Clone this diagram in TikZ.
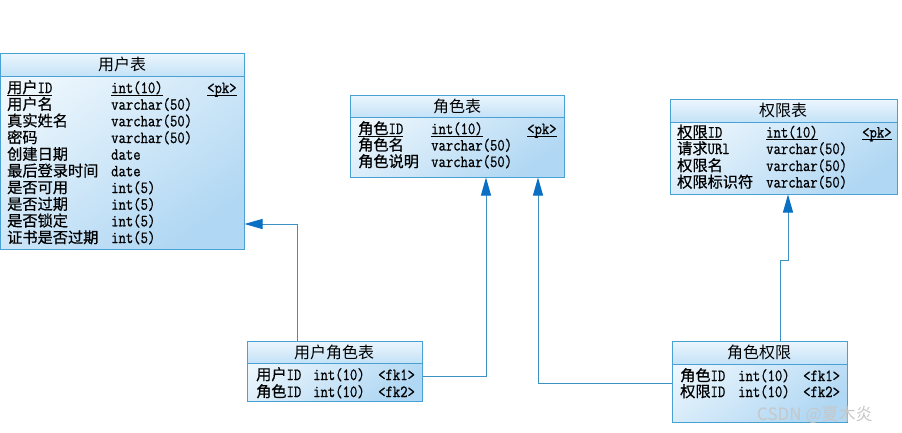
\documentclass[tikz,border=0pt]{standalone}
\usepackage{fontspec}
\usetikzlibrary{arrows.meta,fit}
\newfontfamily\cjk[FakeBold=0.6]{Noto Sans CJK SC}
\newfontfamily\cjkt{Noto Sans CJK SC}
\newfontfamily\wm{Noto Sans CJK SC}
\newfontfamily\mono[FakeStretch=0.84,FakeBold=0.8]{Latin Modern Mono}
\definecolor{bd}{RGB}{72,160,212}
\definecolor{ln}{RGB}{62,145,195}
\definecolor{ah}{RGB}{10,112,196}
\definecolor{fa}{RGB}{238,247,253}
\definecolor{fb}{RGB}{176,215,243}
\definecolor{ha}{RGB}{236,246,253}
\definecolor{hb}{RGB}{196,226,247}
\newcommand\ulx[1]{\leavevmode\setbox0\hbox{#1}\rlap{\rule[-2.6pt]{\wd0}{0.7pt}}\box0}
\newcommand\zh[1]{{\cjk\fontsize{15.2}{16}\selectfont #1}}
\tikzset{
  tbody/.style={inner sep=0pt, draw=bd, line width=1pt, top color=fa, bottom color=fb, shading angle=35},
  thead/.style={inner sep=0pt, draw=bd, line width=1pt, top color=ha, bottom color=hb},
  ttl/.style={inner sep=0pt, font=\cjkt\fontsize{16}{17}\selectfont},
  cell/.style={inner sep=0pt, anchor=base west, font=\mono\fontsize{17}{18}\selectfont},
  conn/.style={draw=ln, line width=1pt, -{Triangle[length=18pt,width=10pt,fill=ah,color=ah]}},
  wmark/.style={inner sep=0pt, text=black!22, font=\wm\fontsize{17}{18}\selectfont}
}
\begin{document}
\begin{tikzpicture}[x=1pt,y=-1pt]
\useasboundingbox (0,0) rectangle (902,432);
\fill[white] (0,0) rectangle (902,432);
% tables
\node[tbody, fit={(0.5,53) (244,249)}] (user) {};
\node[thead, fit={(0.5,53) (244,76)}] (userh) {};
\node[ttl] (usert) at (122,64) {用户表};
\node[tbody, fit={(350,95) (564,177)}] (role) {};
\node[thead, fit={(350,95) (564,117)}] (roleh) {};
\node[ttl] (rolet) at (457,106) {角色表};
\node[tbody, fit={(670,99) (897,194)}] (perm) {};
\node[thead, fit={(670,99) (897,122)}] (permh) {};
\node[ttl] (permt) at (783,110) {权限表};
\node[tbody, fit={(247,341) (422,401)}] (ur) {};
\node[thead, fit={(247,341) (422,363)}] (urh) {};
\node[ttl] (urt) at (334,352) {用户角色表};
\node[tbody, fit={(672,341) (847,422)}] (rp) {};
\node[thead, fit={(672,341) (847,364)}] (rph) {};
\node[ttl] (rpt) at (759,352.5) {角色权限};
% user rows
\node[cell] (u1n) at (7,93) {\ulx{\zh{用户}ID}};
\node[cell] (u1t) at (111,93) {\ulx{int(10)}};
\node[cell] (u1k) at (207,93) {\ulx{<pk>}};
\node[cell] (u2n) at (7,109.7) {\zh{用户名}};
\node[cell] (u2t) at (111,109.7) {varchar(50)};
\node[cell] (u3n) at (7,126.3) {\zh{真实姓名}};
\node[cell] (u3t) at (111,126.3) {varchar(50)};
\node[cell] (u4n) at (7,143) {\zh{密码}};
\node[cell] (u4t) at (111,143) {varchar(50)};
\node[cell] (u5n) at (7,159.7) {\zh{创建日期}};
\node[cell] (u5t) at (111,159.7) {date};
\node[cell] (u6n) at (7,176.3) {\zh{最后登录时间}};
\node[cell] (u6t) at (111,176.3) {date};
\node[cell] (u7n) at (7,193) {\zh{是否可用}};
\node[cell] (u7t) at (111,193) {int(5)};
\node[cell] (u8n) at (7,209.7) {\zh{是否过期}};
\node[cell] (u8t) at (111,209.7) {int(5)};
\node[cell] (u9n) at (7,226.3) {\zh{是否锁定}};
\node[cell] (u9t) at (111,226.3) {int(5)};
\node[cell] (u10n) at (7,243) {\zh{证书是否过期}};
\node[cell] (u10t) at (111,243) {int(5)};
% role rows
\node[cell] (r1n) at (358,134) {\ulx{\zh{角色}ID}};
\node[cell] (r1t) at (431,134) {\ulx{int(10)}};
\node[cell] (r1k) at (527,134) {\ulx{<pk>}};
\node[cell] (r2n) at (358,150.5) {\zh{角色名}};
\node[cell] (r2t) at (431,150.5) {varchar(50)};
\node[cell] (r3n) at (358,167) {\zh{角色说明}};
\node[cell] (r3t) at (431,167) {varchar(50)};
% permission rows
\node[cell] (p1n) at (677,137.5) {\ulx{\zh{权限}ID}};
\node[cell] (p1t) at (766,137.5) {\ulx{int(10)}};
\node[cell] (p1k) at (862,137.5) {\ulx{<pk>}};
\node[cell] (p2n) at (677,154) {\zh{请求}URl};
\node[cell] (p2t) at (766,154) {varchar(50)};
\node[cell] (p3n) at (677,171) {\zh{权限名}};
\node[cell] (p3t) at (766,171) {varchar(50)};
\node[cell] (p4n) at (677,187.5) {\zh{权限标识符}};
\node[cell] (p4t) at (766,187.5) {varchar(50)};
% user-role rows
\node[cell] (a1n) at (256,380) {\zh{用户}ID};
\node[cell] (a1t) at (313,380) {int(10)};
\node[cell] (a1k) at (378,380) {<fk1>};
\node[cell] (a2n) at (256,397) {\zh{角色}ID};
\node[cell] (a2t) at (313,397) {int(10)};
\node[cell] (a2k) at (378,397) {<fk2>};
% role-permission rows
\node[cell] (b1n) at (680,381) {\zh{角色}ID};
\node[cell] (b1t) at (738,381) {int(10)};
\node[cell] (b1k) at (803,381) {<fk1>};
\node[cell] (b2n) at (680,397) {\zh{权限}ID};
\node[cell] (b2t) at (738,397) {int(10)};
\node[cell] (b2k) at (803,397) {<fk2>};
% connectors
\coordinate (c1) at (297,224);
\coordinate (c2) at (486,376);
\coordinate (c3) at (538,383);
\coordinate (c4a) at (780,260);
\coordinate (c4b) at (788,260);
\draw[conn] (ur.north -| c1) |- (user.east |- c1);
\draw[conn] (ur.east |- c2) -| (role.south -| c2);
\draw[conn] (rp.west |- c3) -| (role.south -| c3);
\draw[conn] (rp.north -| c4a) -- (c4a) -- (c4b) -- (perm.south -| c4b);
% watermark
\node[wmark, anchor=base west] (wm) at (757,420) {CSDN @夏木炎};
\end{tikzpicture}
\end{document}
